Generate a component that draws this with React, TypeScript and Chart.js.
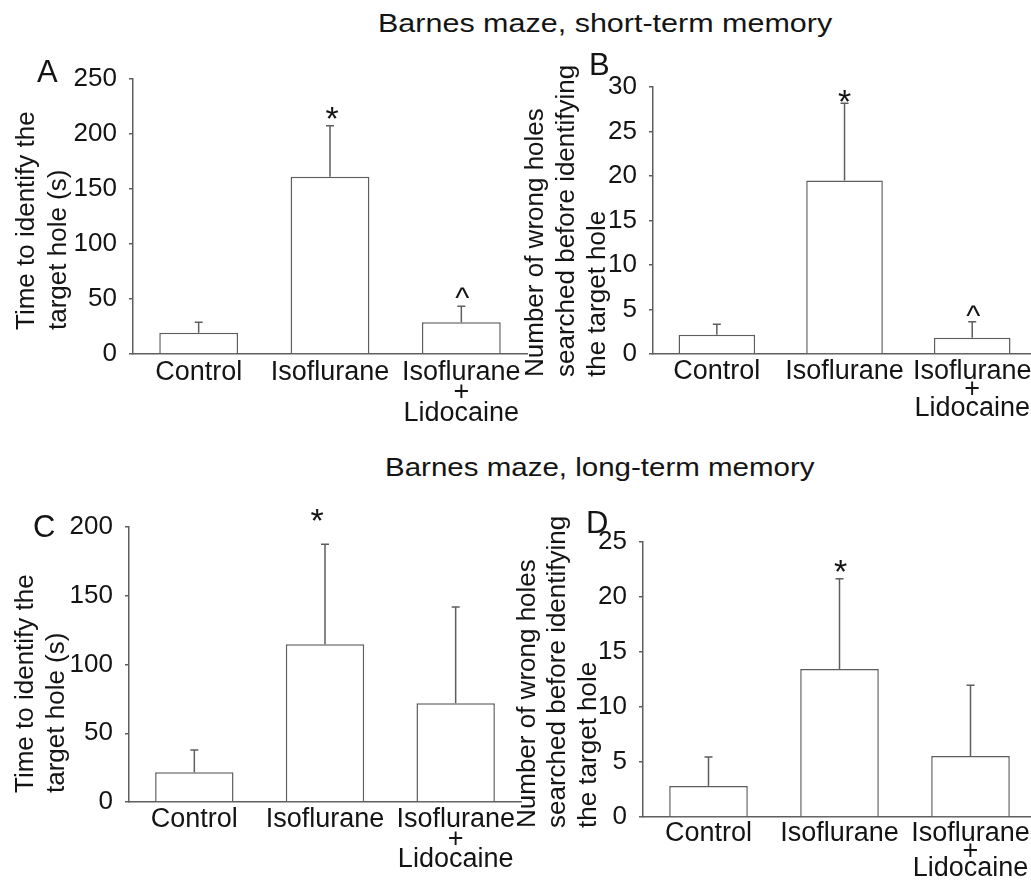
import React, { useEffect, useRef } from "react";
import { Chart, registerables } from "chart.js";

Chart.register(...registerables);

// ---------- data ----------
const groupLabels: string[][] = [["Control"], ["Isoflurane"], ["Isoflurane", "+", "Lidocaine"]];

const headingShort = "Barnes maze, short-term memory";
const headingLong = "Barnes maze, long-term memory";

const yTitleTime = ["Time to identify the", "target hole (s)"];
const yTitleHoles = ["Number of wrong holes", "searched before identifying", "the target hole"];

// A: short-term, time
const timeShortMean = [19.4, 161.2, 28.8];
const timeShortSem = [9.4, 46.3, 14.6];
const timeShortMarks = ["", "*", "^"];
const timeShortTicks = [0, 50, 100, 150, 200, 250];

// B: short-term, wrong holes
const holesShortMean = [2.17, 19.5, 1.83];
const holesShortSem = [1.16, 8.67, 1.8];
const holesShortMarks = ["", "*", "^"];
const holesShortTicks = [0, 5, 10, 15, 20, 25, 30];

// C: long-term, time
const timeLongMean = [21.7, 114.8, 71.9];
const timeLongSem = [16.1, 72.7, 69.9];
const timeLongMarks = ["", "*", ""];
const timeLongTicks = [0, 50, 100, 150, 200];

// D: long-term, wrong holes
const holesLongMean = [2.82, 13.45, 5.55];
const holesLongSem = [2.63, 8.22, 6.42];
const holesLongMarks = ["", "*", ""];
const holesLongTicks = [0, 5, 10, 15, 20, 25];

// ---------- styles / layout ----------
const FONT = '"Liberation Sans", Arial, Helvetica, sans-serif';
const TEXT = "#141414";
const LINE = "#5e5e5e";

type Panel = {
  letter: string;
  means: number[];
  sems: number[];
  marks: string[];
  ticks: number[];
  yTitle: string[];
  box: { left: number; top: number; w: number; h: number };
  area: { l: number; r: number; t: number; b: number };
  titleBaselines: number[];
  titleStartY: number;
  letterPos: [number, number];
  markLift: number[];
  markDx: number[];
  xLineHeight: number;
};

const panels: Panel[] = [
  {
    letter: "A",
    means: timeShortMean,
    sems: timeShortSem,
    marks: timeShortMarks,
    ticks: timeShortTicks,
    yTitle: yTitleTime,
    box: { left: 0, top: 40, w: 530, h: 400 },
    area: { l: 133, r: 527, t: 79, b: 354 },
    titleBaselines: [34, 66],
    titleStartY: 330,
    letterPos: [37, 82],
    markLift: [0, -4, -1.5],
    markDx: [0, 2, 1],
    xLineHeight: 0.76,
  },
  {
    letter: "B",
    means: holesShortMean,
    sems: holesShortSem,
    marks: holesShortMarks,
    ticks: holesShortTicks,
    yTitle: yTitleHoles,
    box: { left: 515, top: 40, w: 525, h: 400 },
    area: { l: 653, r: 1037, t: 87, b: 354 },
    titleBaselines: [543, 574, 605],
    titleStartY: 377,
    letterPos: [589, 75],
    markLift: [0, -10, -4],
    markDx: [0, 0, 1],
    xLineHeight: 0.69,
  },
  {
    letter: "C",
    means: timeLongMean,
    sems: timeLongSem,
    marks: timeLongMarks,
    ticks: timeLongTicks,
    yTitle: yTitleTime,
    box: { left: 0, top: 480, w: 530, h: 401 },
    area: { l: 129, r: 521, t: 527, b: 802 },
    titleBaselines: [33, 64],
    titleStartY: 793,
    letterPos: [33, 537],
    markLift: [0, 12, 0],
    markDx: [0, -8, 0],
    xLineHeight: 0.74,
  },
  {
    letter: "D",
    means: holesLongMean,
    sems: holesLongSem,
    marks: holesLongMarks,
    ticks: holesLongTicks,
    yTitle: yTitleHoles,
    box: { left: 505, top: 480, w: 535, h: 401 },
    area: { l: 643, r: 1036, t: 542, b: 817 },
    titleBaselines: [535, 565, 596],
    titleStartY: 828,
    letterPos: [586, 533],
    markLift: [0, -4, 0],
    markDx: [0, 1, 0],
    xLineHeight: 0.65,
  },
];

function PanelChart({ p }: { p: Panel }) {
  const ref = useRef<HTMLCanvasElement | null>(null);

  useEffect(() => {
    const canvas = ref.current;
    if (!canvas) return;

    const overlay = {
      id: "overlay" + p.letter,
      afterDatasetsDraw(chart: any) {
        const ctx = chart.ctx as CanvasRenderingContext2D;
        const meta = chart.getDatasetMeta(0);
        const yScale = chart.scales.y;
        ctx.save();
        ctx.strokeStyle = LINE;
        ctx.lineWidth = 1.5;
        meta.data.forEach((bar: any, i: number) => {
          const x = bar.x;
          const y0 = yScale.getPixelForValue(p.means[i]);
          const y1 = yScale.getPixelForValue(p.means[i] + p.sems[i]);
          ctx.beginPath();
          ctx.moveTo(x, y0);
          ctx.lineTo(x, y1);
          ctx.moveTo(x - 4, y1);
          ctx.lineTo(x + 4, y1);
          ctx.stroke();
          const m = p.marks[i];
          if (m) {
            ctx.fillStyle = TEXT;
            ctx.font = m === "*" ? `34px ${FONT}` : `30px ${FONT}`;
            ctx.textAlign = "center";
            ctx.textBaseline = "alphabetic";
            ctx.fillText(m, x + p.markDx[i], y1 - p.markLift[i]);
          }
        });
        ctx.restore();
      },
      afterDraw(chart: any) {
        const ctx = chart.ctx as CanvasRenderingContext2D;
        ctx.save();
        ctx.fillStyle = TEXT;
        ctx.font = `26px ${FONT}`;
        ctx.textAlign = "left";
        ctx.textBaseline = "alphabetic";
        p.yTitle.forEach((line, i) => {
          ctx.save();
          ctx.translate(p.titleBaselines[i] - p.box.left, p.titleStartY - p.box.top);
          ctx.rotate(-Math.PI / 2);
          ctx.fillText(line, 0, 0);
          ctx.restore();
        });
        ctx.font = `31px ${FONT}`;
        ctx.fillText(p.letter, p.letterPos[0] - p.box.left, p.letterPos[1] - p.box.top);
        ctx.restore();
      },
    };

    const chart = new Chart(canvas, {
      type: "bar",
      data: {
        labels: groupLabels,
        datasets: [
          {
            data: p.means,
            backgroundColor: "#ffffff",
            borderColor: LINE,
            borderWidth: 1.5,
            borderSkipped: "bottom",
            barPercentage: 0.6,
            categoryPercentage: 1,
          },
        ],
      },
      options: {
        animation: false,
        responsive: false,
        devicePixelRatio: 1,
        events: [],
        layout: {
          padding: {
            left: 0,
            bottom: 0,
            top: p.area.t - p.box.top,
            right: p.box.left + p.box.w - p.area.r,
          },
        },
        plugins: {
          legend: { display: false },
          tooltip: { enabled: false },
          title: { display: false },
        },
        scales: {
          x: {
            offset: true,
            grid: { display: false, drawTicks: false },
            border: { display: true, color: LINE, width: 1.5 },
            ticks: {
              color: TEXT,
              autoSkip: false,
              maxRotation: 0,
              minRotation: 0,
              padding: 8,
              font: { family: FONT, size: 27, lineHeight: p.xLineHeight },
            },
            afterFit(scale: any) {
              scale.height = p.box.top + p.box.h - p.area.b;
            },
          },
          y: {
            min: p.ticks[0],
            max: p.ticks[p.ticks.length - 1],
            grid: {
              drawOnChartArea: false,
              drawTicks: true,
              tickLength: 4,
              color: LINE,
              lineWidth: 1.5,
            },
            border: { display: true, color: LINE, width: 1.5 },
            ticks: {
              color: TEXT,
              padding: 12,
              font: { family: FONT, size: 26 },
            },
            afterBuildTicks(scale: any) {
              scale.ticks = p.ticks.map((v) => ({ value: v }));
            },
            afterFit(scale: any) {
              scale.width = p.area.l - p.box.left;
            },
          },
        },
      },
      plugins: [overlay],
    } as any);

    return () => chart.destroy();
  }, [p]);

  return (
    <canvas
      ref={ref}
      width={p.box.w}
      height={p.box.h}
      style={{
        position: "absolute",
        left: p.box.left,
        top: p.box.top,
        width: p.box.w,
        height: p.box.h,
      }}
    />
  );
}

export default function App() {
  const headingStyle: React.CSSProperties = {
    position: "absolute",
    fontFamily: FONT,
    fontSize: 25,
    lineHeight: "25px",
    color: TEXT,
    whiteSpace: "nowrap",
    transformOrigin: "left top",
  };
  return (
    <div
      style={{
        position: "absolute",
        left: 0,
        top: 0,
        width: 1031,
        height: 881,
        overflow: "hidden",
        background: "#ffffff",
      }}
    >
      <div style={{ ...headingStyle, left: 378, top: 11, transform: "scaleX(1.22)" }}>{headingShort}</div>
      <div style={{ ...headingStyle, left: 385, top: 455, transform: "scaleX(1.18)" }}>{headingLong}</div>
      {panels.map((p) => (
        <PanelChart key={p.letter} p={p} />
      ))}
    </div>
  );
}
